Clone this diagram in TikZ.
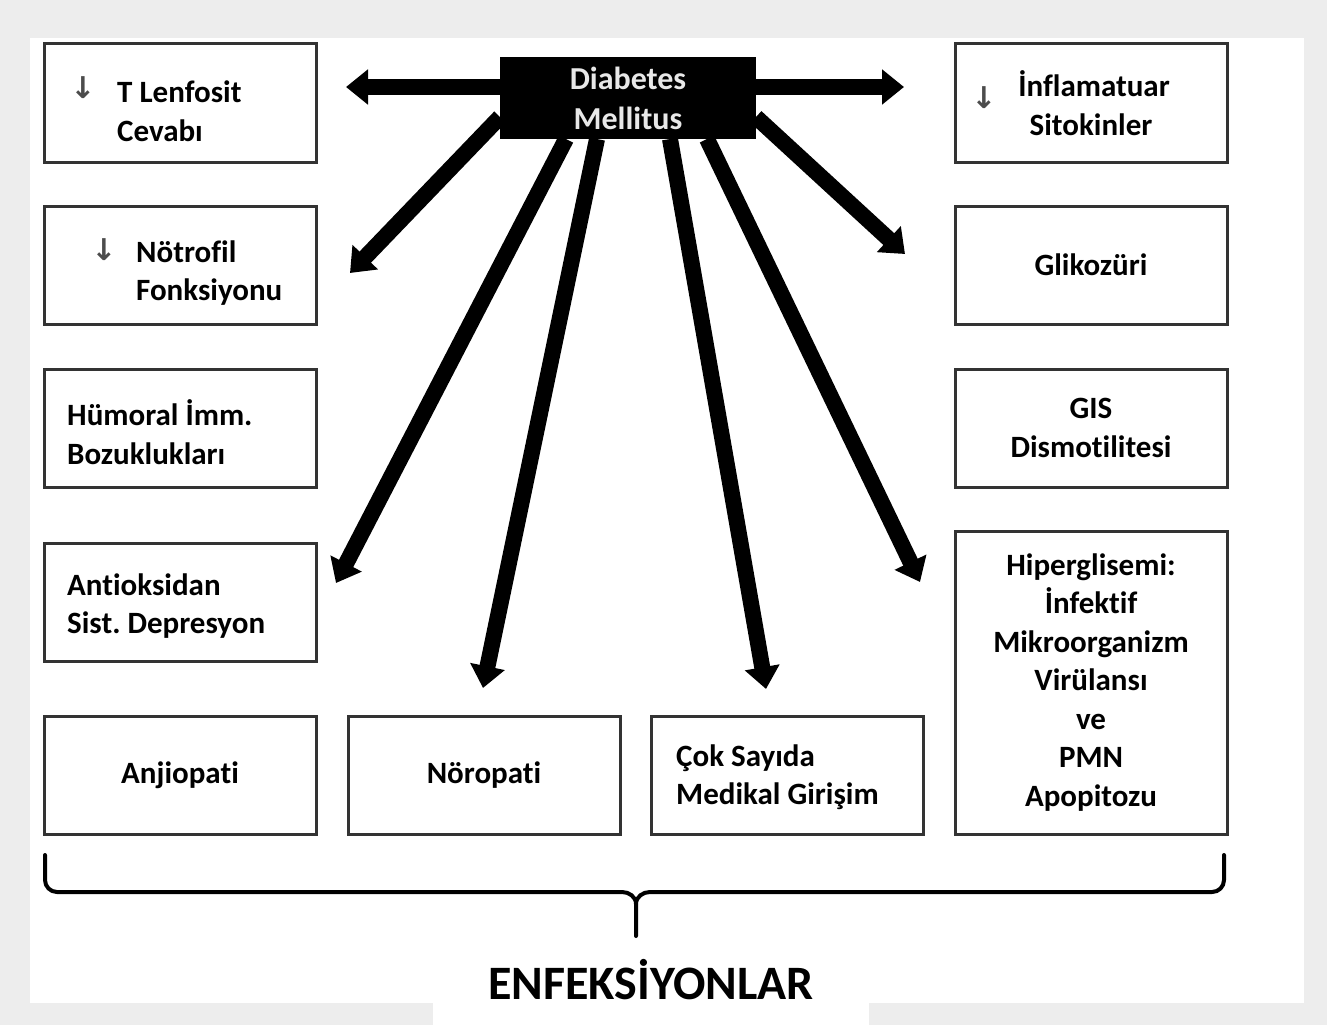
\documentclass[tikz,border=0pt]{standalone}
\usepackage{fontspec}
\setmainfont[Ligatures=NoCommon]{Carlito}
\newfontfamily\arrfont{DejaVu Sans}
\usetikzlibrary{positioning,arrows.meta,backgrounds}
\definecolor{bggray}{HTML}{EDEDED}
\definecolor{boxline}{HTML}{333333}
\definecolor{dmtext}{HTML}{E8E8E8}
\frenchspacing
\tikzset{
  box/.style={draw=boxline, line width=3pt, minimum width=272pt, minimum height=118pt, inner sep=0pt, outer sep=0pt, font=\fontsize{31}{38.5}\selectfont\bfseries, align=center},
  txt/.style={font=\fontsize{31}{38.5}\selectfont\bfseries, align=left, inner sep=0pt, anchor=west},
  dn/.style={font=\arrfont\bfseries\fontsize{30}{30}\selectfont, text=black!70, inner sep=0pt},
  arr/.style={line width=16pt, -{Triangle[length=22pt,width=34pt]}},
  brc/.style={line width=4pt, line join=round, line cap=round},
}
\begin{document}
\begin{tikzpicture}[x=1pt, y=-1pt]
\useasboundingbox (0,0) rectangle (1327,1025);
% center
\node[fill=black, minimum width=256pt, minimum height=82pt, inner sep=0pt, outer sep=0pt, align=center, text=dmtext, font=\fontsize{32}{40}\selectfont\bfseries] (dm) at (628,98) {Diabetes\\Mellitus};
% left column
\node[box] (tl) at (180,103) {};
\node[txt] (tlt) at ([xshift=73pt,yshift=-8pt]tl.west) {T Lenfosit\\Cevabı};
\node[dn] (tld) at ([xshift=39pt,yshift=15pt]tl.west) {↓};
\node[box] (nf) at (180,265) {};
\node[txt] (nft) at ([xshift=92pt,yshift=-8pt]nf.west) {Nötrofil\\Fonksiyonu};
\node[dn] (nfd) at ([xshift=60pt,yshift=15pt]nf.west) {↓};
\node[box] (hm) at (180,428) {};
\node[txt] (hmt) at ([xshift=23pt,yshift=-4pt]hm.west) {Hümoral İmm.\\Bozuklukları};
\node[box] (ao) at (180,602) {};
\node[txt] (aot) at ([xshift=23pt,yshift=-4pt]ao.west) {Antioksidan\\Sist. Depresyon};
% bottom row
\node[box] (aj) at (180,775) {Anjiopati};
\node[box] (nr) at (484,775) {Nöropati};
\node[box] (cs) at (787,775) {};
\node[txt] (cst) at ([xshift=25pt,yshift=-2pt]cs.west) {Çok Sayıda\\Medikal Girişim};
% right column
\node[box] (inf) at (1091,103) {\hspace*{6pt}İnflamatuar\\Sitokinler};
\node[dn] (infd) at ([xshift=29pt,yshift=5pt]inf.west) {↓};
\node[box] (gk) at (1091,265) {Glikozüri};
\node[box] (gis) at (1091,428) {GIS\\Dismotilitesi};
\node[box, minimum height=303pt] (hp) at (1091,682.5) {Hiperglisemi:\\İnfektif\\Mikroorganizm\\Virülansı\\ve\\PMN\\Apopitozu};
% arrow tips
\coordinate (ta) at (346,87);
\coordinate (tb) at (904,87);
\coordinate (tc) at (350,273);
\coordinate (td) at (336,583);
\coordinate (te) at (483,688);
\coordinate (tf) at (766,689);
\coordinate (tg) at (920,582);
\coordinate (th) at (905,254);
\begin{scope}[on background layer]
\fill[bggray] (0,0) rectangle (1327,1025);
\fill[white] (30,38) rectangle (1304,1003);
\fill[white] (433,1003) rectangle (869,1025);
\draw[arr] ([yshift=11pt]dm.west) -- (ta);
\draw[arr] ([yshift=11pt]dm.east) -- (tb);
\draw[arr] ([yshift=-19pt]dm.west) -- (tc);
\draw[arr] ([xshift=-62pt]dm.south) -- (td);
\draw[arr] ([xshift=-31pt]dm.south) -- (te);
\draw[arr] ([xshift=42pt]dm.south) -- (tf);
\draw[arr] ([xshift=79pt]dm.south) -- (tg);
\draw[arr] ([yshift=-19pt]dm.east) -- (th);
\end{scope}
% brace
\draw[brc] (45,855) -- (45,880) to[out=-90,in=180] (57,892) -- (622,892) to[out=0,in=90] (636,904) -- (636,936);
\draw[brc] (636,904) to[out=90,in=180] (650,892) -- (1212,892) to[out=0,in=-90] (1224,880) -- (1224,855);
\node[font=\fontsize{48}{52}\selectfont\bfseries, inner sep=0pt] (enf) at (651,980) {ENFEKSİYONLAR};
\end{tikzpicture}
\end{document}
